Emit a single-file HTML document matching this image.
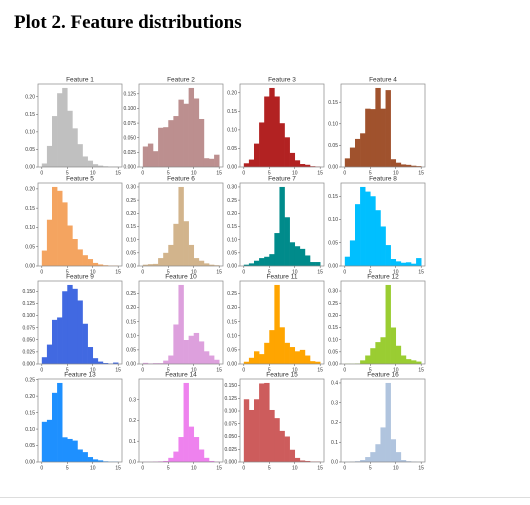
<!DOCTYPE html>
<html><head><meta charset="utf-8"><style>
body{margin:0;background:#fff;width:530px;height:505px;overflow:hidden;position:relative}
h1{position:absolute;left:14px;top:12px;margin:0;font:bold 19px "Liberation Serif",serif;color:#000}
svg{position:absolute;left:0;top:0}
</style></head><body>
<h1>Plot 2. Feature distributions</h1>
<svg id="s" width="530" height="505"></svg>
<div style="position:absolute;left:0;top:497px;width:530px;height:1px;background:#ddd"></div>
<script>
const titles=["Feature 1","Feature 2","Feature 3","Feature 4","Feature 5","Feature 6","Feature 7","Feature 8","Feature 9","Feature 10","Feature 11","Feature 12","Feature 13","Feature 14","Feature 15","Feature 16"];
const colors=["#c0c0c0","#bc8f8f","#b22222","#a0522d","#f4a460","#d2b48c","#008b8b","#00bfff","#4169e1","#dda0dd","#ffa500","#9acd32","#1e90ff","#ee82ee","#cd5c5c","#b0c4de"];
const binEdges=[0,1,2,3,4,5,6,7,8,9,10,11,12,13,14,15];
const xTicks=[0,5,10,15];
const f1=[0.01,0.06,0.145,0.21,0.225,0.16,0.11,0.065,0.03,0.018,0.008,0.004,0.002,0.001,0.001];
const f2=[0.035,0.04,0.027,0.067,0.068,0.08,0.087,0.115,0.108,0.135,0.117,0.082,0.015,0.014,0.021];
const f3=[0.01,0.02,0.063,0.12,0.19,0.213,0.19,0.118,0.08,0.038,0.018,0.008,0.006,0.002,0.001];
const f4=[0.02,0.045,0.065,0.078,0.135,0.134,0.183,0.135,0.178,0.018,0.01,0.006,0.005,0.003,0.002];
const f5=[0.04,0.12,0.205,0.195,0.165,0.105,0.07,0.043,0.028,0.018,0.008,0.004,0.002,0.001,0.001];
const f6=[0.005,0.007,0.008,0.03,0.05,0.08,0.16,0.30,0.17,0.08,0.03,0.02,0.01,0.005,0.003];
const f7=[0.005,0.01,0.02,0.03,0.035,0.045,0.125,0.30,0.185,0.09,0.075,0.065,0.04,0.015,0.015];
const f8=[0.02,0.055,0.133,0.17,0.16,0.15,0.12,0.085,0.045,0.015,0.01,0.007,0.008,0.005,0.017];
const f9=[0.014,0.04,0.091,0.096,0.15,0.163,0.155,0.131,0.083,0.035,0.012,0.005,0.002,0.001,0.003];
const f10=[0.004,0.002,0.003,0.003,0.012,0.03,0.14,0.28,0.085,0.1,0.11,0.08,0.045,0.03,0.015];
const f11=[0.008,0.022,0.045,0.035,0.075,0.12,0.28,0.13,0.075,0.06,0.045,0.05,0.03,0.01,0.008];
const f12=[0.001,0.001,0.002,0.015,0.035,0.065,0.09,0.11,0.325,0.15,0.075,0.035,0.02,0.015,0.01];
const f13=[0.122,0.128,0.21,0.24,0.075,0.07,0.065,0.038,0.03,0.015,0.008,0.005,0.002,0.001,0.001];
const f14=[0.001,0.001,0.002,0.003,0.005,0.02,0.05,0.12,0.38,0.17,0.12,0.06,0.02,0.005,0.002];
const f15=[0.123,0.102,0.123,0.154,0.155,0.102,0.086,0.061,0.05,0.024,0.008,0.003,0.002,0.001,0.001];
const f16=[0.001,0.002,0.004,0.01,0.025,0.05,0.09,0.175,0.4,0.115,0.05,0.01,0.004,0.002,0.001];
const yStep=[0.05,0.025,0.05,0.05,0.05,0.05,0.05,0.05,0.025,0.05,0.05,0.05,0.05,0.1,0.025,0.1];
const series=[f1,f2,f3,f4,f5,f6,f7,f8,f9,f10,f11,f12,f13,f14,f15,f16];
const s=document.getElementById('s'),NS='http://www.w3.org/2000/svg';
function mk(t,a,p){const e=document.createElementNS(NS,t);for(const k in a)e.setAttribute(k,a[k]);p.appendChild(e);return e;}
const lefts=[38,139,240,341],tops=[84,183,281,379],W=84,H=83;
series.forEach((vals,i)=>{
  const L=lefts[i%4],T=tops[Math.floor(i/4)];
  const g=mk('g',{},s);
  
  
  const xmin=-0.75,xmax=15.75,ymax=Math.max(...vals)*1.05;
  const X=v=>L+(v-xmin)/(xmax-xmin)*W, Y=v=>T+H-v/ymax*H;
  vals.forEach((v,j)=>{
    const r=mk('rect',{x:X(binEdges[j]),y:Y(v),width:X(binEdges[j+1])-X(binEdges[j])+0.3,height:Y(0)-Y(v),fill:colors[i]},g);
    
    
  });
  mk('rect',{x:L,y:T,width:W,height:H,fill:'none',stroke:'#888','stroke-width':0.7},g);
  const t=mk('text',{x:L+W/2,y:T-2.5,'text-anchor':'middle','font-size':6.5,'font-family':'Liberation Sans, sans-serif',fill:'#333'},g);
  t.textContent=titles[i];
  
  
  xTicks.forEach(v=>{
    mk('line',{x1:X(v),x2:X(v),y1:T+H,y2:T+H+2,stroke:'#555','stroke-width':0.5},g);
    const tx=mk('text',{x:X(v),y:T+H+7.5,'text-anchor':'middle','font-size':5,'font-family':'Liberation Sans, sans-serif',fill:'#333'},g);
    tx.textContent=v;
  });
  const st=yStep[i],dec=st===0.025?3:(st===0.1?1:2);
  for(let k=0;k*st<=ymax+1e-9;k++){
    const v=k*st;
    mk('line',{x1:L-2,x2:L,y1:Y(v),y2:Y(v),stroke:'#555','stroke-width':0.5},g);
    const ty=mk('text',{x:L-3,y:Y(v)+1.7,'text-anchor':'end','font-size':5,'font-family':'Liberation Sans, sans-serif',fill:'#333'},g);
    ty.textContent=v.toFixed(dec);
  }
});
</script>
</body></html>
